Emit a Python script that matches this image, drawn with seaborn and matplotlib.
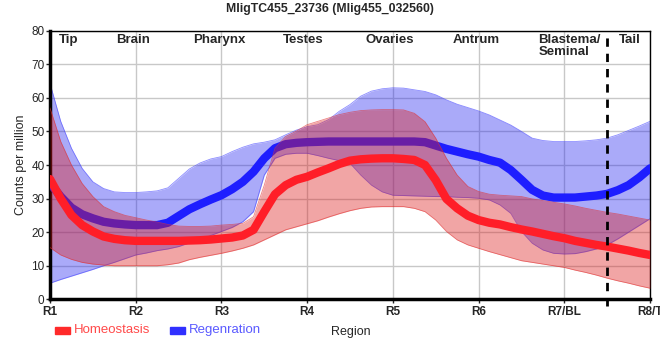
import numpy as np
import pandas as pd
import matplotlib
matplotlib.use("Agg")
import matplotlib.pyplot as plt
import seaborn as sns

pos = [1, 1.125, 1.25, 1.375, 1.5, 1.625, 1.75, 1.875,
       2, 2.125, 2.25, 2.375, 2.5, 2.625, 2.75, 2.875,
       3, 3.125, 3.25, 3.375, 3.5, 3.625, 3.75, 3.875,
       4, 4.125, 4.25, 4.375, 4.5, 4.625, 4.75, 4.875,
       5, 5.125, 5.25, 5.375, 5.5, 5.625, 5.75, 5.875,
       6, 6.125, 6.25, 6.375, 6.5, 6.625, 6.75, 6.875,
       7, 7.125, 7.25, 7.375, 7.5, 7.625, 7.75, 7.875,
       8]

homeo_mid = [35.8, 30, 25.1, 22.1, 20.2, 18.7, 18, 17.6,
             17.4, 17.4, 17.4, 17.4, 17.4, 17.5, 17.6, 17.8,
             18.1, 18.4, 19, 20.7, 26.1, 31.3, 34, 35.6,
             36.5, 37.8, 39, 40.3, 41.3, 41.7, 41.9, 42,
             42, 41.8, 41.5, 40, 35.5, 29.9, 27.1, 24.9,
             23.6, 22.8, 22.3, 21.5, 20.8, 20.2, 19.5, 18.8,
             18.2, 17.4, 16.8, 16.2, 15.7, 15.1, 14.5, 13.8,
             13.2]
homeo_hi = [57, 47, 40, 34.5, 30.6, 27.6, 26.1, 25,
            24.3, 23.6, 23, 22.3, 21.8, 21.7, 21.7, 21.8,
            22.1, 22.3, 22.6, 24.6, 34, 45, 48.5, 50.1,
            52, 53, 54, 55, 55.7, 56.2, 56.4, 56.5,
            56.5, 56.4, 55.4, 52.9, 48, 42, 37, 33.6,
            32.1, 31.3, 31, 30.8, 30.6, 29.9, 29.4, 28.9,
            28.4, 27.8, 27.1, 26.5, 25.9, 25.4, 24.8, 24.2,
            23.6]
homeo_lo = [15.4, 13.2, 11.9, 11, 10.5, 10.2, 10, 10,
            10, 10, 10, 10.3, 10.8, 11.8, 12.5, 13.1,
            13.7, 14.4, 15.2, 16.2, 17.7, 19.2, 20.7, 21.6,
            22.5, 23.4, 24.5, 25.5, 26.4, 27.1, 27.5, 27.6,
            27.6, 27.6, 27.1, 26.1, 23.6, 20.2, 17.7, 16.2,
            15.2, 14.2, 13.3, 12.4, 11.5, 11, 10.5, 10,
            9.5, 8.7, 8, 7.2, 6.3, 5.5, 4.8, 4,
            3.3]

regen_mid = [34.6, 30.6, 27.3, 25.3, 24.1, 23.1, 22.6, 22.3,
             22.1, 22.1, 22.1, 22.8, 24.8, 26.8, 28.3, 29.7,
             31, 32.8, 35, 38, 42, 45, 46.2, 46.6,
             46.8, 46.9, 47, 47, 47, 47, 47, 47,
             47, 47, 47, 46.8, 45.8, 44.8, 44, 43.2,
             42.5, 41.5, 40.7, 38.5, 35.6, 32.6, 30.9, 30.3,
             30.3, 30.3, 30.6, 30.9, 31.4, 32.5, 34, 36.3,
             39]
regen_hi = [64.3, 53, 45, 39, 35, 33, 32, 31.8,
            31.8, 32, 32.3, 33.2, 36, 38.8, 40.6, 41.8,
            42.5, 44, 45.3, 46.3, 46.8, 47.5, 49, 50.4,
            51.4, 52, 53.5, 56, 58, 60.5, 62, 62.7,
            63, 62.9, 62.4, 61.9, 60.9, 59.4, 58.1, 57.1,
            56.1, 54.9, 53.4, 51.9, 50, 48, 47.3, 47,
            47, 47, 47.2, 47.5, 48, 49, 50.3, 51.6,
            53]
regen_lo = [4.8, 5.9, 6.9, 7.9, 8.9, 10, 11, 12.1,
            13.2, 13.8, 14.5, 15, 15.7, 16.8, 17.8, 19,
            20.2, 21.4, 23.1, 26.1, 37, 42, 43.2, 43.5,
            43.5, 42.8, 42, 41.3, 40.5, 37, 34, 32,
            31, 30.9, 30.8, 30.7, 30.6, 30.6, 30.4, 30.3,
            30.1, 29.6, 28.1, 25.6, 20.2, 16.7, 14.7, 13.7,
            13.5, 13.6, 14.2, 15, 16.2, 18, 20, 22,
            24]

tick_labels = ["R1", "R2", "R3", "R4", "R5", "R6", "R7/BL", "R8/T"]
region_names = ["Tip", "Brain", "Pharynx", "Testes", "Ovaries", "Antrum", "Blastema/\nSeminal", "Tail"]
region_label_x = [1.22, 1.97, 2.98, 3.95, 4.96, 5.97, 6.7, 7.76]

df = pd.DataFrame({"pos": pos, "Homeostasis": homeo_mid, "Regenration": regen_mid})

sns.set_style("white")
plt.rcParams['font.family'] = ['Liberation Sans', 'DejaVu Sans']

fig = plt.figure(figsize=(6.6, 3.6), dpi=100)
ax = fig.add_axes([50/660, 1 - 299.3/360, 600/660, 268.6/360])

red = "#ff1e28"
blue = "#1e1eff"

# blue band + line first, then red on top
ax.fill_between(pos, regen_lo, regen_hi, color="#2020f0", alpha=0.38, lw=0, zorder=2)
ax.plot(pos, regen_hi, color="#4040ff", lw=0.6, alpha=0.6, zorder=2)
ax.plot(pos, regen_lo, color="#4040ff", lw=0.6, alpha=0.6, zorder=2)
sns.lineplot(data=df, x="pos", y="Regenration", color=blue, lw=6, ax=ax, zorder=3,
             solid_joinstyle="round")
ax.fill_between(pos, homeo_lo, homeo_hi, color="#dc1e1e", alpha=0.4, lw=0, zorder=4)
ax.plot(pos, homeo_hi, color="#e03030", lw=0.6, alpha=0.6, zorder=4)
ax.plot(pos, homeo_lo, color="#e03030", lw=0.6, alpha=0.6, zorder=4)
sns.lineplot(data=df, x="pos", y="Homeostasis", color=red, lw=6, ax=ax, zorder=5,
             solid_joinstyle="round")

ax.set_xlim(1, 8)
ax.set_ylim(0, 80)
ax.set_xticks(range(1, 9))
ax.set_xticklabels(tick_labels, fontweight="bold", fontsize=8.5)
ax.set_yticks(range(0, 81, 10))
ax.tick_params(axis="y", labelsize=8.5, length=3, width=1, pad=1, left=True)
ax.tick_params(axis="x", length=3, width=1, pad=2, bottom=True)
ax.grid(True, color="#c8c8c8", lw=1, zorder=0)
ax.set_axisbelow(True)

for s in ["left", "bottom"]:
    ax.spines[s].set_linewidth(2.5)
    ax.spines[s].set_color("black")
for s in ["top", "right"]:
    ax.spines[s].set_linewidth(1)
    ax.spines[s].set_color("black")

ax.axvline(7.5, color="black", lw=2, ls=(0, (3, 2.5)), ymin=-0.025, clip_on=False, zorder=6)

for name, xp in zip(region_names, region_label_x):
    ha = "left" if "/" in name else "center"
    ax.text(xp, 79, name, ha=ha, va="top", fontsize=9.5, fontweight="bold", zorder=7,
            linespacing=1.0)

ax.set_xlabel("")
ax.set_ylabel("Counts per million", fontsize=9, labelpad=3)
fig.text(351/660, 1 - 332/360, "Region", ha="center", va="center", fontsize=9)
fig.text(330/660, 1 - 9/360, "MligTC455_23736 (Mlig455_032560)", ha="center", va="center",
         fontsize=8.8, fontweight="bold")

# legend
fig.patches.append(plt.Rectangle((55/660, 1 - 334/360), 15/660, 7/360, color="#ff2a2a",
                                 transform=fig.transFigure, figure=fig))
fig.text(74/660, 1 - 330/360, "Homeostasis", ha="left", va="center", fontsize=9.5, color="#ff4a4a")
fig.patches.append(plt.Rectangle((170/660, 1 - 334/360), 15/660, 7/360, color="#3030ff",
                                 transform=fig.transFigure, figure=fig))
fig.text(189/660, 1 - 330/360, "Regenration", ha="left", va="center", fontsize=9.5, color="#5a5aff")

if ax.get_legend():
    ax.get_legend().remove()

fig.savefig("out.png", dpi=100)
